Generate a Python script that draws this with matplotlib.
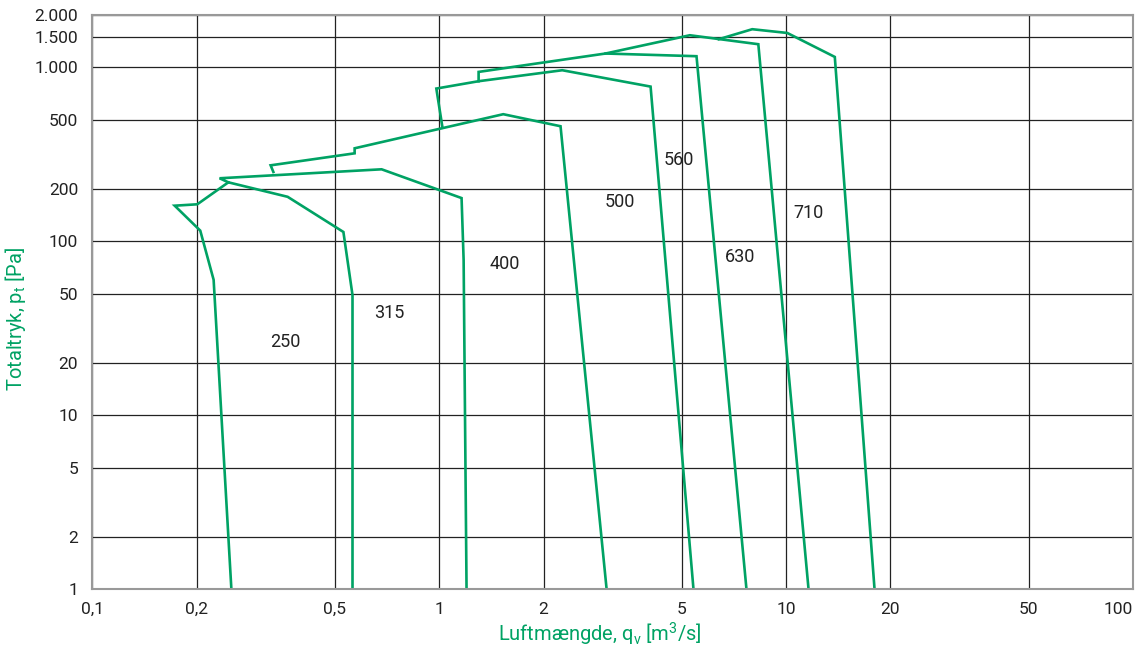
import matplotlib
matplotlib.use("Agg")
import matplotlib.pyplot as plt

# Farver og skrift
GREEN = '#00a264'
plt.rcParams['font.family'] = ['Roboto', 'DejaVu Sans']

# Akser
x_ticks = [0.1, 0.2, 0.5, 1, 2, 5, 10, 20, 50, 100]
x_labels = ['0,1', '0,2', '0,5', '1', '2', '5', '10', '20', '50', '100']
y_ticks = [1, 2, 5, 10, 20, 50, 100, 200, 500, 1000, 1500, 2000]
y_labels = ['1', '2', '5', '10', '20', '50', '100', '200', '500', '1.000', '1.500', '2.000']

# Arbejdsområder pr. ventilatorstørrelse (luftmængde m3/s, tryk Pa)
q_250 = [0.252, 0.224, 0.205, 0.173, 0.201, 0.247, 0.366, 0.53, 0.563, 0.563]
p_250 = [1, 60, 115, 160, 163, 218, 180, 113, 49, 1]

q_315 = [0.247, 0.233, 0.683, 1.161, 1.177, 1.20]
p_315 = [218, 230, 259, 177, 78, 1]

q_400 = [0.333, 0.327, 0.571, 0.571, 1.531, 2.239, 3.04]
p_400 = [250, 273, 320, 342, 537, 458, 1]

q_500 = [1.023, 0.982, 1.30, 2.265, 4.07, 5.41]
p_500 = [449, 754, 831, 961, 774, 1]

q_560 = [1.30, 1.30, 3.018, 5.52, 7.69]
p_560 = [831, 940, 1199, 1157, 1]

q_630 = [3.018, 5.28, 8.32, 11.61]
p_630 = [1199, 1527, 1356, 1]

q_710 = [6.40, 7.99, 10.08, 13.82, 17.99]
p_710 = [1449, 1654, 1574, 1146, 1]

curves = [(q_250, p_250), (q_315, p_315), (q_400, p_400), (q_500, p_500),
          (q_560, p_560), (q_630, p_630), (q_710, p_710)]

# Etiketter
sizes = ['250', '315', '400', '500', '560', '630', '710']
label_q = [0.361, 0.719, 1.545, 3.31, 4.90, 7.39, 11.6]
label_p = [26.3, 38.6, 73.8, 167.5, 292, 80.9, 144.9]

fig = plt.figure(figsize=(11.37, 6.46), dpi=100)
ax = fig.add_axes([0.081, 0.088, 0.9155, 0.889])

for q, p in curves:
    ax.plot(q, p, color=GREEN, linewidth=1.9, solid_joinstyle='miter')

for s, q, p in zip(sizes, label_q, label_p):
    ax.text(q, p, s, fontsize=13, color='#222222', ha='center', va='center')

ax.set_xscale('log')
ax.set_yscale('log')
ax.set_xlim(0.1, 100)
ax.set_ylim(1, 2000)
ax.minorticks_off()
ax.set_xticks(x_ticks)
ax.set_xticklabels(x_labels)
ax.set_yticks(y_ticks)
ax.set_yticklabels(y_labels)
ax.tick_params(axis='both', length=0, labelsize=12.5, labelcolor='#222222', pad=9)
ax.tick_params(axis='y', pad=10)
ax.get_xticklabels()[-1].set_horizontalalignment('right')

ax.grid(True, which='major', color='#222222', linewidth=0.9)
ax.set_axisbelow(True)
for sp in ax.spines.values():
    sp.set_color('#999999')
    sp.set_linewidth(1.5)

ax.set_xlabel(r'Luftmængde, q$_\mathregular{v}$ [m$^\mathregular{3}$/s]', color=GREEN, fontsize=14.5)
ax.set_ylabel(r'Totaltryk, p$_\mathregular{t}$ [Pa]', color=GREEN, fontsize=14.5)
ax.xaxis.set_label_coords(0.488, -0.055)
ax.yaxis.set_label_coords(-0.062, 0.47)

plt.savefig('out.png', dpi=100)
